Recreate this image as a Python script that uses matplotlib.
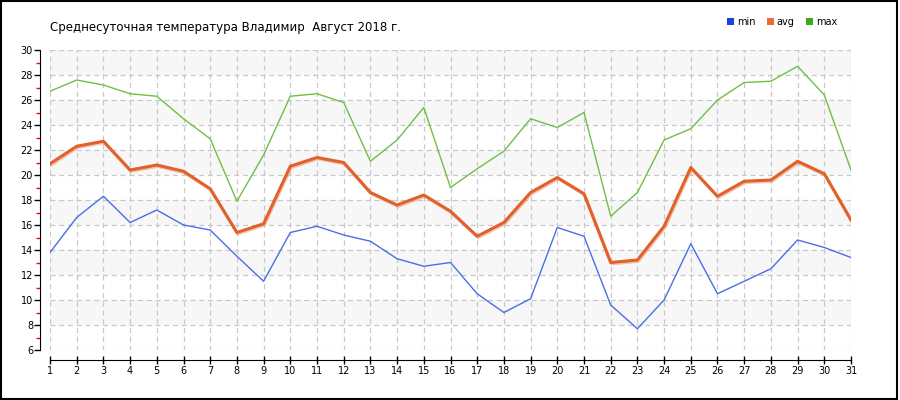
import numpy as np
import matplotlib
matplotlib.use("Agg")
import matplotlib.pyplot as plt
import matplotlib.patheffects as pe
from matplotlib.patches import Patch, Rectangle
from matplotlib.ticker import MultipleLocator

days = list(range(1, 32))
t_min = [13.8, 16.6, 18.3, 16.2, 17.2, 16.0, 15.6, 13.5, 11.5, 15.4, 15.9, 15.2, 14.7, 13.3, 12.7, 13.0,
         10.5, 9.0, 10.1, 15.8, 15.1, 9.6, 7.7, 10.0, 14.5, 10.5, 11.5, 12.5, 14.8, 14.2, 13.4]
t_avg = [20.9, 22.3, 22.7, 20.4, 20.8, 20.3, 18.9, 15.4, 16.1, 20.7, 21.4, 21.0, 18.6, 17.6, 18.4, 17.1,
         15.1, 16.2, 18.6, 19.8, 18.5, 13.0, 13.2, 15.9, 20.6, 18.3, 19.5, 19.6, 21.1, 20.1, 16.4]
t_max = [26.7, 27.6, 27.2, 26.5, 26.3, 24.5, 22.9, 17.9, 21.6, 26.3, 26.5, 25.8, 21.1, 22.8, 25.4, 19.0,
         20.5, 21.9, 24.5, 23.8, 25.0, 16.7, 18.6, 22.8, 23.7, 26.0, 27.4, 27.5, 28.7, 26.4, 20.4]
title = "Среднесуточная температура Владимир  Август 2018 г."

c_min, c_avg, c_max = "#4a6ee8", "#e2602a", "#6fbf45"

fig = plt.figure(figsize=(9, 4), dpi=100)
ax = fig.add_axes([50 / 900, 50 / 400, 801 / 900, 300 / 400])

# alternating horizontal bands
for lo in range(8, 30, 4):
    ax.axhspan(lo, lo + 2, color="#f7f7f7", zorder=0, lw=0)

ax.plot(days, t_max, color=c_max, lw=1, zorder=3)
ax.plot(days, t_min, color=c_min, lw=1, zorder=3)
ax.plot(days, t_avg, color=c_avg, lw=2.2, zorder=4,
        path_effects=[pe.SimpleLineShadow(offset=(0.6, -1.0), shadow_color="#f0a080", alpha=0.6),
                      pe.Normal()])

ax.set_xlim(1, 31)
ax.set_ylim(6, 30)
ax.set_xticks(days)
ax.yaxis.set_major_locator(MultipleLocator(2))
ax.yaxis.set_minor_locator(MultipleLocator(1))
ax.grid(True, which="major", color="#c8c8c8", ls=(0, (4, 3)), lw=0.9)
ax.set_axisbelow(True)

for s in ["top", "right"]:
    ax.spines[s].set_visible(False)
ax.spines["left"].set_position(("outward", 7.2))
ax.spines["bottom"].set_position(("outward", 7.2))
ax.spines["left"].set_bounds(6, 30)
ax.tick_params(axis="both", which="major", labelsize=7, length=4, width=1, color="black", pad=1)
ax.tick_params(axis="x", direction="inout", length=6)
ax.tick_params(axis="y", which="minor", length=3, width=1, color="red")

ax.set_facecolor("white")

fig.text(50 / 900, 1 - 27 / 400, title, fontsize=8.5, va="center", ha="left")

handles = [Patch(facecolor="#1f3fe0", label="min"),
           Patch(facecolor="#f06a30", label="avg"),
           Patch(facecolor="#3aaa1e", label="max")]
fig.legend(handles=handles, loc="center right", bbox_to_anchor=(842 / 900, 1 - 22 / 400), ncol=3,
           frameon=False, fontsize=7, handlelength=0.7, handleheight=0.7, handletextpad=0.3,
           columnspacing=1.2, borderpad=0)

fig.add_artist(Rectangle((0.001, 0.002), 0.996, 0.995, transform=fig.transFigure,
                         fill=False, edgecolor="black", lw=1.5))

fig.savefig("out.png", dpi=100)
